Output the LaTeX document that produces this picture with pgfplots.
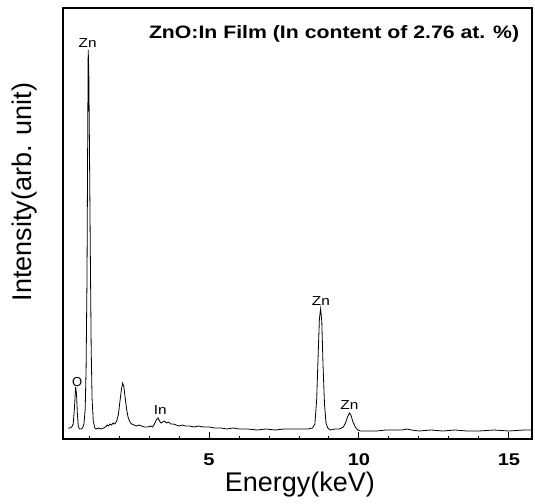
\documentclass[border=0pt]{standalone}
\usepackage{fontspec}
\setmainfont{Liberation Sans}
\newfontfamily\widefont[FakeStretch=1.18]{Liberation Sans}
\usepackage{pgfplots}
\pgfplotsset{compat=1.18}
\usepackage{pgfplotstable}

% EDS spectrum, intensity in arbitrary units
\pgfplotstableread{
E I
0.30 11
0.36 11
0.42 12
0.47 15
0.51 30
0.55 52
0.58 45
0.61 25
0.64 13
0.68 10
0.73 10
0.78 11
0.83 15
0.87 30
0.90 70
0.93 160
0.95 280
0.97 389
0.99 370
1.01 300
1.04 190
1.07 90
1.10 40
1.14 18
1.19 11
1.25 10
1.32 11
1.40 10
1.48 11
1.55 12
1.60 14
1.65 13
1.70 15
1.75 14
1.80 16
1.86 15
1.92 18
1.98 25
2.03 38
2.08 50
2.12 56
2.16 52
2.20 42
2.25 30
2.30 22
2.36 17
2.42 15
2.50 14
2.58 13
2.66 14
2.75 13
2.85 12
2.95 12
3.05 13
3.12 12
3.18 15
3.24 19
3.30 21
3.35 18
3.40 16
3.46 17
3.52 18
3.58 16
3.65 17
3.72 15
3.80 15
3.90 14
4.00 13
4.10 14
4.20 13
4.35 13
4.50 12
4.65 13
4.80 12
5.00 12
5.20 11
5.40 11
5.60 10
5.80 11
6.00 10
6.30 10
6.60 9
6.90 10
7.20 9
7.50 10
7.80 10
8.10 10
8.30 10
8.45 11
8.53 15
8.59 40
8.64 85
8.68 120
8.72 130
8.76 118
8.80 75
8.85 35
8.90 16
8.96 11
9.05 9
9.20 10
9.35 10
9.48 12
9.55 16
9.62 22
9.68 26
9.73 24
9.80 17
9.88 12
9.96 9
10.05 8
10.30 8
10.60 8
10.90 9
11.20 9
11.45 9
11.60 10
11.75 9
12.00 8
12.40 9
12.80 8
13.20 9
13.60 8
14.00 8
14.50 9
15.00 8
15.50 9
15.77 9
}\spectrum

\begin{document}
\begin{tikzpicture}
\begin{axis}[
  scale only axis,
  width=469pt, height=431pt,
  xmin=0.13, xmax=15.77,
  ymin=0, ymax=431,
  axis line style={line width=1.4pt},
  xtick={5,10,15},
  minor xtick={1,2,3,4,6,7,8,9,11,12,13,14},
  ytick=\empty,
  tick align=inside,
  xtick pos=bottom,
  major tick length=7pt,
  minor tick length=3.5pt,
  every tick/.style={black, line width=1pt},
  /pgf/number format/assume math mode=true,
  xticklabel style={font=\widefont\fontsize{17}{17}\selectfont\bfseries, yshift=-11pt},
  xlabel={Energy(keV)},
  xlabel style={font=\fontsize{27}{27}\selectfont, at={(axis description cs:0.505,0)}, anchor=center, yshift=-46pt},
  ylabel={Intensity(arb. unit)},
  ylabel style={font=\fontsize{27}{27}\selectfont, at={(axis description cs:-0.081,0.573)}, anchor=center},
  clip=false,
]
\addplot[black, line width=0.8pt] table[x=E, y=I] {\spectrum};

\node[font=\widefont\fontsize{18}{18}\selectfont\bfseries] at (rel axis cs:0.578,0.94) {ZnO:In Film (In content of 2.76 at. \%)};
\node[font=\widefont\fontsize{13}{13}\selectfont, anchor=south, inner sep=1pt] at (axis cs:0.95,390) {Zn};
\node[font=\fontsize{13}{13}\selectfont, inner sep=0pt] at (axis cs:0.60,57) {O};
\node[font=\widefont\fontsize{13}{13}\selectfont, anchor=south, inner sep=1pt] at (axis cs:3.37,23) {In};
\node[font=\widefont\fontsize{13}{13}\selectfont, anchor=south, inner sep=1pt] at (axis cs:8.73,132) {Zn};
\node[font=\widefont\fontsize{13}{13}\selectfont, anchor=south, inner sep=1pt] at (axis cs:9.68,28) {Zn};
\end{axis}
\pgfresetboundingbox
\useasboundingbox ([shift={(-63pt,-64pt)}]current axis.south west) rectangle ([shift={(3pt,8pt)}]current axis.north east);
\end{tikzpicture}
\end{document}
